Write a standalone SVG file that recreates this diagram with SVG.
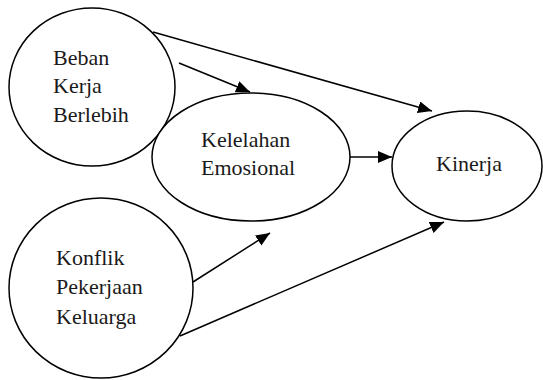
<svg xmlns="http://www.w3.org/2000/svg" width="543" height="380" viewBox="0 0 543 380">
<style>
.n{fill:#fff;stroke:#000;stroke-width:1.5}
.t{font-family:'Liberation Serif','Times New Roman',serif;font-size:22px;fill:#1a1a1a}
.c{stroke:#000;stroke-width:1.5;fill:none;marker-end:url(#ah)}
</style>
<defs>
<marker id="ah" markerUnits="userSpaceOnUse" markerWidth="14" markerHeight="12" refX="14" refY="6" orient="auto">
<path d="M0,0 L14,6 L0,12 Z" fill="#000"/>
</marker>
</defs>
<rect width="543" height="380" fill="#fff"/>
<g id="beban">
<ellipse class="n" cx="92" cy="87" rx="83" ry="79"/>
<text class="t" x="53" y="65">Beban</text>
<text class="t" x="53" y="93">Kerja</text>
<text class="t" x="53" y="122">Berlebih</text>
</g>
<g id="konflik">
<ellipse class="n" cx="101" cy="288" rx="92" ry="90"/>
<text class="t" x="56" y="265">Konflik</text>
<text class="t" x="56" y="294">Pekerjaan</text>
<text class="t" x="56" y="324">Keluarga</text>
</g>
<g id="kelelahan">
<ellipse class="n" cx="251" cy="157" rx="99" ry="64"/>
<text class="t" x="201" y="147">Kelelahan</text>
<text class="t" x="201" y="175">Emosional</text>
</g>
<g id="kinerja">
<ellipse class="n" cx="467" cy="166" rx="75" ry="55"/>
<text class="t" x="436" y="171">Kinerja</text>
</g>
<g id="connectors">
<line class="c" x1="153" y1="32" x2="432" y2="111"/>
<line class="c" x1="179" y1="63" x2="250" y2="92"/>
<line class="c" x1="350" y1="157" x2="392" y2="157"/>
<line class="c" x1="193" y1="282" x2="270" y2="233"/>
<line class="c" x1="180" y1="336" x2="444" y2="222"/>
</g>
</svg>
